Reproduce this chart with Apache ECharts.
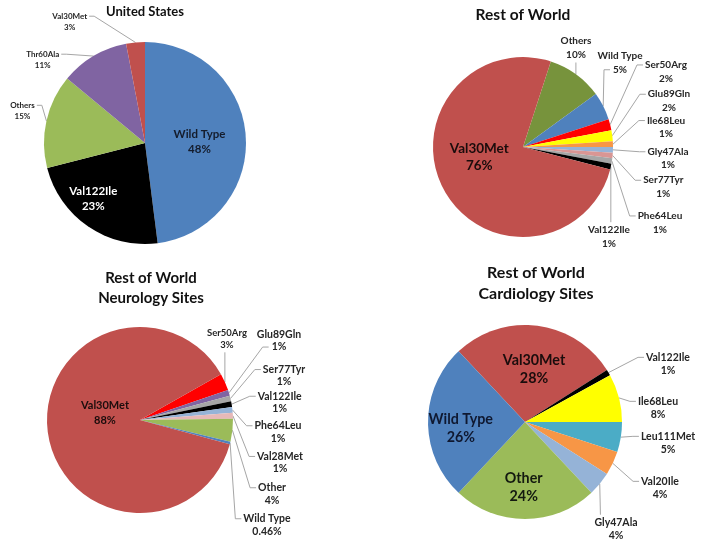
<!DOCTYPE html>
<html><head><meta charset="utf-8">
<script src="https://cdn.jsdelivr.net/npm/echarts@6/dist/echarts.min.js"></script>
<style>html,body{margin:0;padding:0;background:#fff}#c{width:704px;height:545px}</style>
</head><body><div id="c"></div>
<script>
// ---------- DATA ----------
const titles = ['United States', 'Rest of World', 'Rest of World\nNeurology Sites', 'Rest of World\nCardiology Sites'];

const usCategories = ['Wild Type', 'Val122Ile', 'Others', 'Thr60Ala', 'Val30Met'];
const usValues = [48, 23, 15, 11, 3];

const rowCategories = ['Others', 'Wild Type', 'Ser50Arg', 'Glu89Gln', 'Ile68Leu', 'Gly47Ala', 'Ser77Tyr', 'Phe64Leu', 'Val122Ile', 'Val30Met'];
const rowValues = [10, 5, 2, 2, 1, 1, 1, 1, 1, 76];

const neuroCategories = ['Ser50Arg', 'Glu89Gln', 'Ser77Tyr', 'Val122Ile', 'Phe64Leu', 'Val28Met', 'Other', 'Wild Type', 'Val30Met'];
const neuroValues = [3, 1, 1, 1, 1, 1, 4, 0.46, 88];

const cardioCategories = ['Val30Met', 'Val122Ile', 'Ile68Leu', 'Leu111Met', 'Val20Ile', 'Gly47Ala', 'Other', 'Wild Type'];
const cardioValues = [28, 1, 8, 5, 4, 4, 24, 26];

// ---------- STYLES ----------
const usColors = ['#4F81BD', '#000000', '#9BBB59', '#8064A2', '#C0504D'];
const rowColors = ['#77933C', '#4F81BD', '#FF0000', '#FFFF00', '#F79646', '#95B3D7', '#D99694', '#A6A6A6', '#000000', '#C0504D'];
const neuroColors = ['#FF0000', '#8064A2', '#A6A6A6', '#000000', '#95B3D7', '#E6B9B8', '#9BBB59', '#4F81BD', '#C0504D'];
const cardioColors = ['#C0504D', '#000000', '#FFFF00', '#4BACC6', '#F79646', '#95B3D7', '#9BBB59', '#4F81BD'];

const FONT = 'Lato';

// ---------- LAYOUT ----------
const pieLayout = [
  { center: [145, 143], radius: 101, startAngle: 90 },
  { center: [523, 147], radius: 90, startAngle: 72 },
  { center: [140, 420], radius: 93, startAngle: 29.5 },
  { center: [525, 422], radius: 97, startAngle: 133.2 }
];
const titleLayout = [
  { x: 145, y: 4, size: 13, lh: 16 },
  { x: 523, y: 5, size: 15.5, lh: 20 },
  { x: 151, y: 268, size: 15, lh: 20 },
  { x: 536, y: 262, size: 16, lh: 21 }
];
const fontCfg = [
  { inside: { size: 11.5, lh: 15 }, outside: { size: 8, lh: 11 } },
  { inside: { size: 13.5, lh: 17 }, outside: { size: 10, lh: 13.5 } },
  { inside: { size: 11, lh: 15 }, outside: { size: 10.5, lh: 12.5 } },
  { inside: { size: 14.3, lh: 18 }, outside: { size: 10.5, lh: 13.3 } }
];
const labelPos = [
  { 'Wild Type': { x: 199.5, y: 141.7, inside: true, color: '#141c2c' },
    'Val122Ile': { x: 93.3, y: 199, inside: true, color: '#ffffff' },
    'Others': { x: 22.5, y: 110.8, att: 'R1' },
    'Thr60Ala': { x: 42.7, y: 59.7, att: 'R1' },
    'Val30Met': { x: 69.7, y: 21.7, att: 'R1' } },
  { 'Val30Met': { x: 479.3, y: 157, inside: true, color: '#1a0c0c' },
    'Others': { x: 576, y: 48, att: 'B' },
    'Wild Type': { x: 620, y: 63, att: 'L2' },
    'Ser50Arg': { x: 666, y: 71.7, att: 'L1' },
    'Glu89Gln': { x: 669, y: 101, att: 'L1' },
    'Ile68Leu': { x: 666, y: 127.3, att: 'L1' },
    'Gly47Ala': { x: 668, y: 158.5, att: 'L1' },
    'Ser77Tyr': { x: 663.3, y: 187, att: 'L1' },
    'Phe64Leu': { x: 660, y: 222.7, att: 'L1' },
    'Val122Ile': { x: 609, y: 236.7, att: 'T' } },
  { 'Val30Met': { x: 105, y: 413.3, inside: true, color: '#1a0c0c' },
    'Ser50Arg': { x: 227, y: 338.8, att: 'B', size: 9.5 },
    'Glu89Gln': { x: 279, y: 340.8, att: 'L2' },
    'Ser77Tyr': { x: 284, y: 375.8, att: 'L1' },
    'Val122Ile': { x: 279.7, y: 402.5, att: 'L1' },
    'Phe64Leu': { x: 278, y: 432, att: 'L1' },
    'Val28Met': { x: 280, y: 462.7, att: 'L1' },
    'Other': { x: 272, y: 494, att: 'L1' },
    'Wild Type': { x: 267, y: 525, att: 'L1' } },
  { 'Val30Met': { x: 534, y: 369.5, inside: true, color: '#1a0c0c' },
    'Wild Type': { x: 460.8, y: 428.3, inside: true, color: '#0f1830' },
    'Other': { x: 523.7, y: 487, inside: true, color: '#141a10' },
    'Val122Ile': { x: 668, y: 364, att: 'L1' },
    'Ile68Leu': { x: 658, y: 408, att: 'L1' },
    'Leu111Met': { x: 668, y: 443, att: 'L1' },
    'Val20Ile': { x: 660, y: 488, att: 'L1' },
    'Gly47Ala': { x: 616, y: 529, att: 'TL' } }
];

const allCats = [usCategories, rowCategories, neuroCategories, cardioCategories];
const allVals = [usValues, rowValues, neuroValues, cardioValues];
const allColors = [usColors, rowColors, neuroColors, cardioColors];

const mctx = document.createElement('canvas').getContext('2d');
function tw(text, size) { mctx.font = 'bold ' + size + 'px ' + FONT; return mctx.measureText(text).width; }

function makeLabelLayout(si) {
  return function (p) {
    const name = allCats[si][p.dataIndex];
    const val = allVals[si][p.dataIndex];
    const cfg = labelPos[si][name];
    if (!cfg) return {};
    const st = cfg.inside ? fontCfg[si].inside : fontCfg[si].outside;
    const size = cfg.size || st.size;
    const res = { x: cfg.x, y: cfg.y, align: 'center', verticalAlign: 'middle' };
    if (cfg.inside) return res;
    const w1 = tw(name, size), w2 = tw(val + '%', size);
    const w = Math.max(w1, w2);
    const y1 = cfg.y - st.lh / 2, y2 = cfg.y + st.lh / 2;
    const top = cfg.y - st.lh + 1, bottom = cfg.y + st.lh - 1;
    const s = p.labelLinePoints && p.labelLinePoints[0];
    if (!s) return res;
    let pts;
    const left = cfg.x - w / 2, right = cfg.x + w / 2;
    const clampX = (v) => Math.max(left + 3, Math.min(right - 3, v));
    switch (cfg.att) {
      case 'L1': { const ex = cfg.x - w1 / 2 - 2; pts = [s, [ex - 6, y1], [ex, y1]]; break; }
      case 'L2': { const ex = cfg.x - w2 / 2 - 3; pts = [s, [ex - 6, y2], [ex, y2]]; break; }
      case 'R1': { const ex = cfg.x + w1 / 2 + 2; pts = [s, [ex + 5, y1], [ex, y1]]; break; }
      case 'B': { pts = [s, [clampX(s[0]), bottom + 2]]; break; }
      case 'T': { pts = [s, [clampX(s[0]), top - 2]]; break; }
      case 'TL': { pts = [s, [left + 6, top - 2]]; break; }
    }
    res.labelLinePoints = pts;
    return res;
  };
}

function buildSeries(si) {
  const cats = allCats[si], vals = allVals[si], cols = allColors[si];
  const data = cats.map((c, i) => {
    const cfg = labelPos[si][c] || {};
    const st = cfg.inside ? fontCfg[si].inside : fontCfg[si].outside;
    return {
      name: c,
      value: vals[i],
      itemStyle: { color: cols[i] },
      label: {
        position: cfg.inside ? 'inside' : 'outside',
        fontSize: cfg.size || st.size,
        lineHeight: st.lh,
        color: cfg.color || '#262626'
      },
      labelLine: { show: !cfg.inside }
    };
  });
  const L = pieLayout[si];
  return {
    type: 'pie',
    center: L.center,
    radius: L.radius,
    startAngle: L.startAngle,
    clockwise: true,
    avoidLabelOverlap: false,
    silent: true,
    itemStyle: { borderWidth: 0 },
    label: {
      show: true,
      formatter: '{b}\n{c}%',
      fontFamily: FONT,
      fontWeight: 'bold',
      overflow: 'none'
    },
    labelLine: { show: true, length: 4, length2: 4, smooth: false,
      lineStyle: { color: '#A6A6A6', width: 1 } },
    labelLayout: makeLabelLayout(si),
    data: data
  };
}

const chart = echarts.init(document.getElementById('c'), null, { renderer: 'canvas' });
chart.setOption({
  animation: false,
  backgroundColor: '#ffffff',
  title: titles.map((t, i) => ({
    text: t,
    left: titleLayout[i].x,
    top: titleLayout[i].y,
    textAlign: 'center',
    padding: 0,
    textStyle: { fontFamily: FONT, fontWeight: 'bold', fontSize: titleLayout[i].size,
      lineHeight: titleLayout[i].lh, color: '#111111' }
  })),
  series: [0, 1, 2, 3].map(buildSeries)
});
</script>
</body></html>
